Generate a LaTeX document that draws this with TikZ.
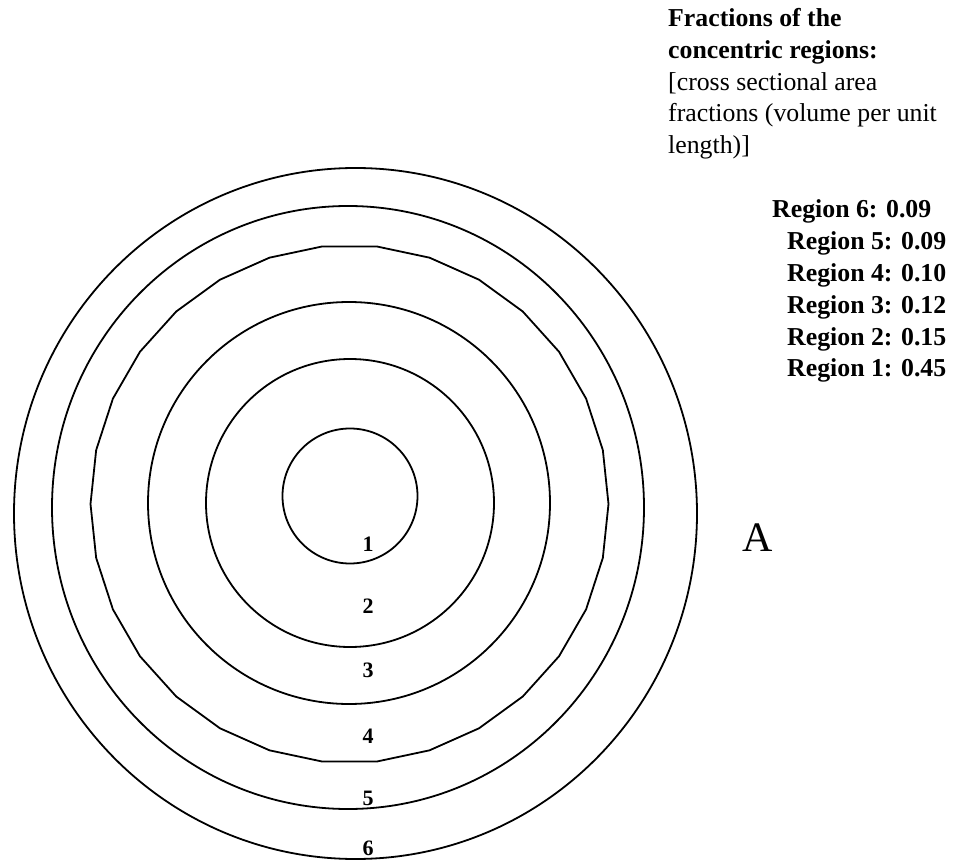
\documentclass[tikz,border=0pt]{standalone}
\usepackage{fontspec}
\setmainfont{Liberation Serif}
\begin{document}
\begin{tikzpicture}[x=1pt,y=-1pt,
  ring/.style={draw=black,line width=1.8pt},
  headtext/.style={anchor=base west,inner sep=0pt,font=\fontsize{25.8}{31}\selectfont\bfseries},
  bodytext/.style={anchor=base west,inner sep=0pt,font=\fontsize{25.8}{31}\selectfont},
  regtext/.style={anchor=base west,inner sep=0pt,font=\fontsize{25.8}{31}\selectfont\bfseries},
  numlabel/.style={anchor=base,inner sep=0pt,font=\fontsize{22}{26}\selectfont\bfseries}]
\useasboundingbox (0,0) rectangle (954,861);
% rings
\draw[ring] (355.5,513.5) ellipse [x radius=341.5, y radius=345.5];
\draw[ring] (348,507.5) ellipse [x radius=296, y radius=301.5];
\draw[ring,line join=round] plot[samples=31,domain=0:360] ({349.5+259*cos(\x)},{504+259*sin(\x)}) -- cycle;
\draw[ring] (349,503) circle [radius=201];
\draw[ring] (350,503) circle [radius=144];
\draw[ring] (350,496) circle [radius=67.5];
% ring labels
\node[numlabel] (n1) at (368,551) {1};
\node[numlabel] (n2) at (368,613) {2};
\node[numlabel] (n3) at (368,677) {3};
\node[numlabel] (n4) at (368,743) {4};
\node[numlabel] (n5) at (368,805) {5};
\node[numlabel] (n6) at (368,855) {6};
% A
\node[anchor=base west,inner sep=0pt,font=\fontsize{42}{48}\selectfont] (A) at (742,551) {A};
% heading
\node[headtext] (h1) at (668,27) {Fractions of the};
\node[headtext] (h2) at (668,59) {concentric regions:};
\node[bodytext] (h3) at (668,91) {[cross sectional area};
\node[bodytext] (h4) at (668,122) {fractions (volume per unit};
\node[bodytext] (h5) at (668,154) {length)]};
% region fractions
\node[regtext] (r6) at (772,218) {Region 6: 0.09};
\node[regtext] (r5) at (787,250) {Region 5: 0.09};
\node[regtext] (r4) at (787,282) {Region 4: 0.10};
\node[regtext] (r3) at (787,313) {Region 3: 0.12};
\node[regtext] (r2) at (787,345) {Region 2: 0.15};
\node[regtext] (r1) at (787,377) {Region 1: 0.45};
\end{tikzpicture}
\end{document}
